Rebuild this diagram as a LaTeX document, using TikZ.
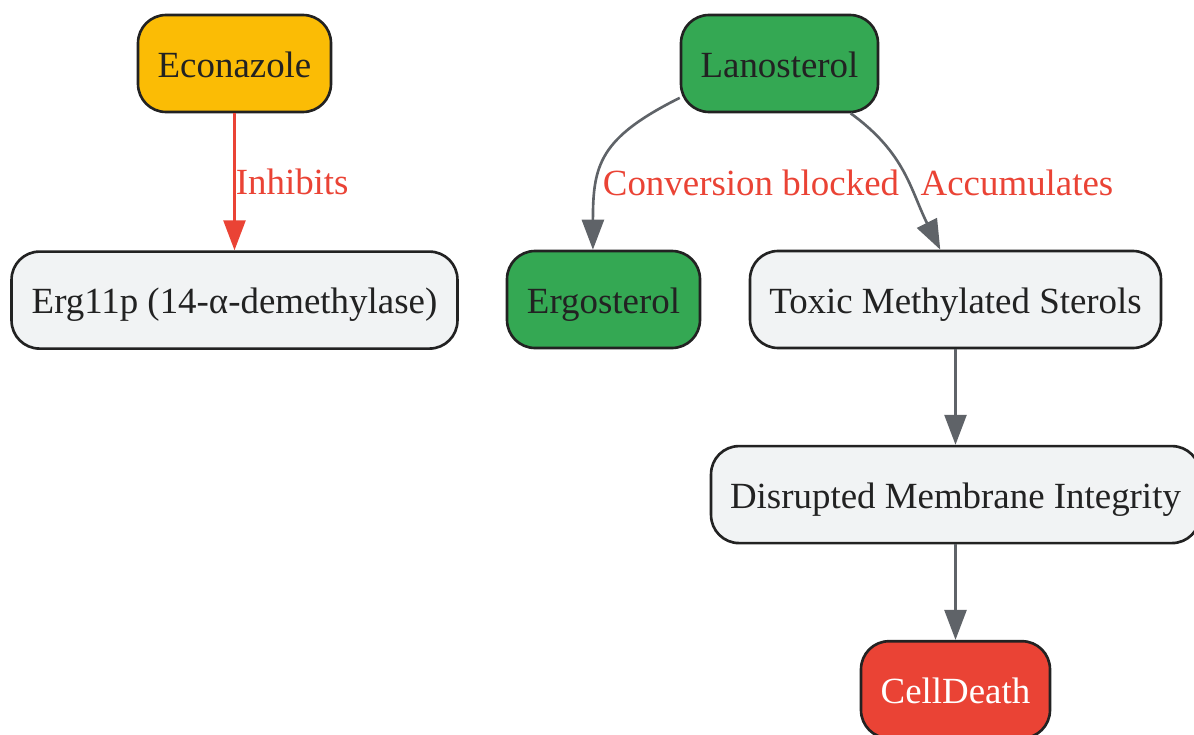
\documentclass[tikz,border=0pt]{standalone}
\usepackage{fontspec}
\setmainfont{Liberation Serif}
\usepackage{tikz}
\usetikzlibrary{positioning,arrows.meta}

\definecolor{drugyellow}{HTML}{FBBC05}
\definecolor{sterolgreen}{HTML}{34A853}
\definecolor{deathred}{HTML}{EA4335}
\definecolor{plaingray}{HTML}{F1F3F4}
\definecolor{edgegray}{HTML}{5F6368}
\definecolor{inkdark}{HTML}{222222}

\begin{document}
\begin{tikzpicture}[x=0.02cm, y=-0.02cm,
	box/.style={draw=inkdark, line width=1.5pt, rounded corners=0.56cm,
		minimum height=1.94cm, inner sep=0pt, text=inkdark,
		text height=16.8pt, text depth=1.4pt,
		font=\fontsize{21}{25}\selectfont},
	edge/.style={draw=edgegray, line width=1.5pt,
		-{Triangle[length=0.6cm,width=0.44cm]}},
	lbl/.style={text=deathred, inner sep=0pt,
		font=\fontsize{21}{25}\selectfont}
]
\useasboundingbox (0,0) rectangle (1194,734);

% Drug and target
\node [box,
	fill=drugyellow,
	minimum width=3.86cm
] (econ) at (234.5,63.5) {Econazole};

\node [box,
	fill=plaingray,
	minimum width=8.92cm,
	below=2.74cm of econ
] (erg) {Erg11p (14-α-demethylase)};

% Sterol pathway
\node [box,
	fill=sterolgreen,
	minimum width=3.94cm
] (lano) at (779.5,63.5) {Lanosterol};

\node [box,
	fill=sterolgreen,
	minimum width=3.86cm
] (ergo) at (603.5,299.5) {Ergosterol};

\node [box,
	fill=plaingray,
	minimum width=8.22cm
] (tox) at (955.5,299.5) {Toxic Methylated Sterols};

\node [box,
	fill=plaingray,
	minimum width=9.78cm,
	below=1.91cm of tox
] (memb) {Disrupted Membrane Integrity};

\node [box,
	fill=deathred,
	text=white,
	minimum width=3.78cm,
	below=1.91cm of memb
] (death) {CellDeath};

% Arrows with text label
\draw[edge, draw=deathred] (econ.south) -- (erg.north)
	node[lbl, midway, anchor=west]{Inhibits};

\draw[edge] (lano.199) .. controls +(-80,40) and +(0,-85) .. (ergo.102)
	node[lbl, at={(751,183)}]{Conversion blocked};

\draw[edge] (lano.-35) .. controls +(55,40) and +(-30,-60) .. (tox.107)
	node[lbl, at={(1017,183)}]{Accumulates};

\draw[edge] (tox.south) -- (memb.north);

\draw[edge] (memb.south) -- (death.north);

\end{tikzpicture}
\end{document}
